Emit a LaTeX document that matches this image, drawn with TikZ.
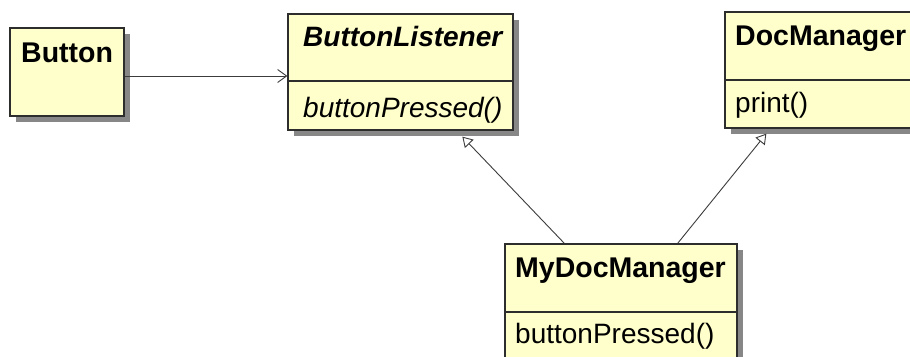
\documentclass[tikz,border=0pt]{standalone}
\usepackage{fontspec}
\setmainfont{Liberation Sans}
\usetikzlibrary{arrows.meta,shadows}
\definecolor{classfill}{RGB}{255,255,204}
\definecolor{classline}{RGB}{45,45,45}
\definecolor{shadowgray}{RGB}{135,135,135}
\definecolor{linkgray}{RGB}{60,60,60}
\tikzset{
  classbox/.style={draw=classline, line width=1.3pt, fill=classfill, inner sep=0pt,
    drop shadow={shadow xshift=6pt, shadow yshift=-6pt, fill=shadowgray, opacity=1}},
  classname/.style={anchor=base west, inner sep=0pt, font=\fontsize{28.5}{33}\selectfont\bfseries},
  member/.style={anchor=base west, inner sep=0pt, font=\fontsize{28}{33}\selectfont},
  divider/.style={draw=classline, line width=1.3pt},
  assoc/.style={draw=linkgray, line width=0.9pt, -{Straight Barb[length=9pt,width=13pt]}},
  generalize/.style={draw=linkgray, line width=0.9pt, -{Triangle[open,length=10pt,width=12pt,fill=white]}}
}
\begin{document}
\begin{tikzpicture}[x=1pt,y=-1pt]
  \useasboundingbox[fill=white] (0,0) rectangle (910,356);
  \clip (0,0) rectangle (910,356);
  % classes
  \node[classbox, minimum width=114pt, minimum height=88pt] (button) at (67,72) {};
  \node[classname] (buttonname) at (21,62) {Button};

  \node[classbox, minimum width=225pt, minimum height=116pt] (listener) at (400.5,72) {};
  \draw[divider] (listener.west |- 0,81) -- (listener.east |- 0,81);
  \node[classname, font=\fontsize{28}{33}\selectfont\bfseries\itshape] (listenername) at (303,46) {ButtonListener};
  \node[member, font=\fontsize{28}{33}\selectfont\itshape] (listenerop) at (303,117) {buttonPressed()};

  \node[classbox, minimum width=200pt, minimum height=116pt] (docmgr) at (825,70) {};
  \draw[divider] (docmgr.west |- 0,80) -- (docmgr.east |- 0,80);
  \node[classname] (docmgrname) at (735,45) {DocManager};
  \node[member] (docmgrop) at (735,112) {print()};

  \node[classbox, minimum width=232pt, minimum height=136pt] (mydoc) at (621,312) {};
  \draw[divider] (mydoc.west |- 0,312) -- (mydoc.east |- 0,312);
  \node[classname] (mydocname) at (515,277) {MyDocManager};
  \node[member] (mydocop) at (515,343) {buttonPressed()};

  % relations
  \draw[assoc] ([yshift=-4pt]button.east) -- ([yshift=-4pt]button.east -| listener.west);
  \draw[generalize] ([xshift=60pt]mydoc.north west) -- ([xshift=175pt,yshift=-6pt]listener.south west);
  \draw[generalize] ([xshift=-60pt]mydoc.north east) -- ([xshift=42pt,yshift=-5pt]docmgr.south west);
\end{tikzpicture}
\end{document}
